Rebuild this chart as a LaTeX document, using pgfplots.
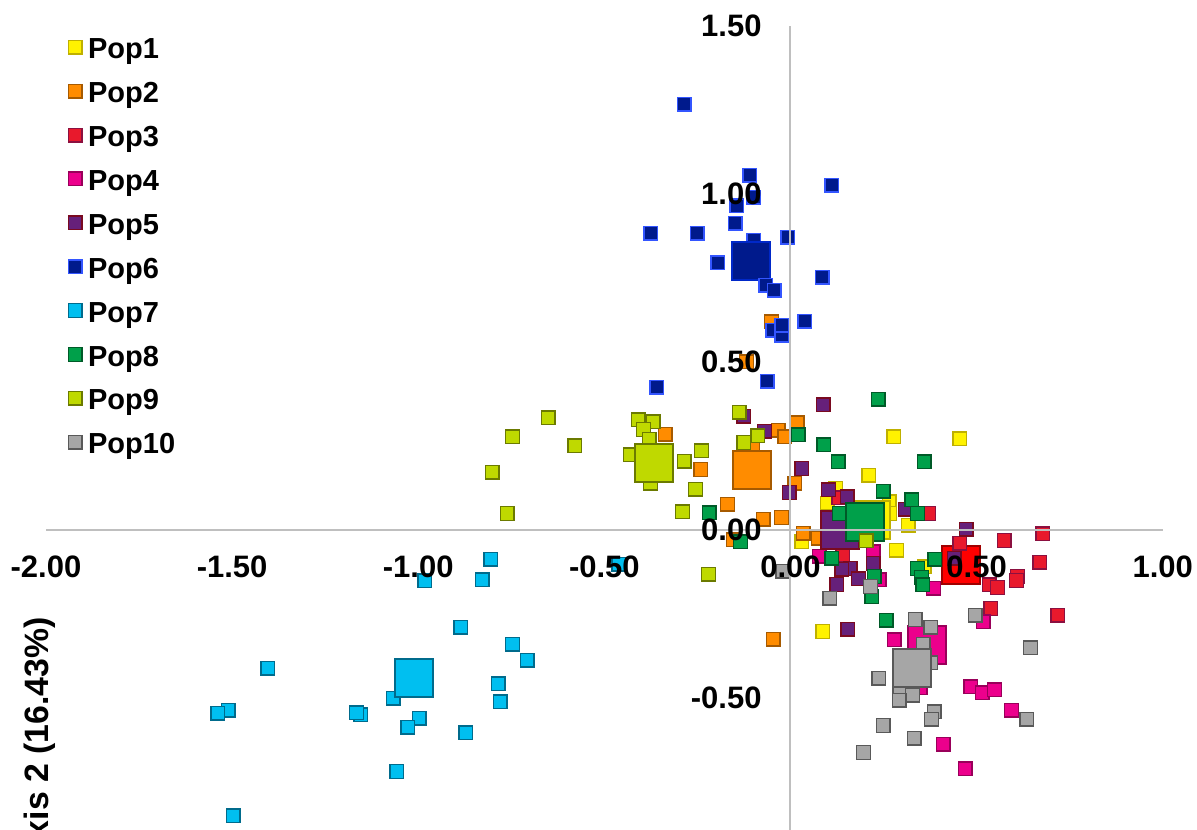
\documentclass[border=0pt]{standalone}
\usepackage{fontspec}
\setmainfont{Liberation Sans}
\usepackage{pgfplots}
\pgfplotsset{compat=1.18}
\definecolor{p1f}{HTML}{FFF200}\definecolor{p1d}{HTML}{BFB000}
\definecolor{p2f}{HTML}{FF8C00}\definecolor{p2d}{HTML}{A65A00}
\definecolor{p3f}{HTML}{E8192C}\definecolor{p3d}{HTML}{8B1040}
\definecolor{p3cf}{HTML}{FF0000}\definecolor{p3cd}{HTML}{A00000}
\definecolor{p4f}{HTML}{EC008C}\definecolor{p4d}{HTML}{99005A}
\definecolor{p5f}{HTML}{66207A}\definecolor{p5d}{HTML}{7A0A20}
\definecolor{p6f}{HTML}{001A8C}\definecolor{p6d}{HTML}{3355FF}
\definecolor{p6cd}{HTML}{0028C8}
\definecolor{p7f}{HTML}{00BFF0}\definecolor{p7d}{HTML}{006B8C}
\definecolor{p8f}{HTML}{00A04A}\definecolor{p8d}{HTML}{005A28}
\definecolor{p9f}{HTML}{BFD900}\definecolor{p9d}{HTML}{6B7A00}
\definecolor{p10f}{HTML}{A6A6A6}\definecolor{p10d}{HTML}{595959}
\definecolor{axgray}{RGB}{191,191,191}
\pgfplotsset{
  sm/.style 2 args={only marks, mark=square*, mark size=3.4pt,
    mark options={draw=#1, fill=#2, line width=0.7pt, solid}},
  bg/.style 2 args={only marks, mark=square*, mark size=9.5pt, forget plot,
    mark options={draw=#1, fill=#2, line width=1pt, solid}},
}
\begin{document}
\begin{tikzpicture}
\begin{axis}[
  scale only axis, width=558.35pt, height=419.6pt,
  xmin=-2, xmax=1, ymin=-1, ymax=1.5,
  enlargelimits=false,
  axis lines=middle,
  set layers, axis on top,
  axis line style={-, draw=axgray, line width=1pt, /pgfplots/on layer=axis background},
  xtick={-2,-1.5,-1,-0.5,0,0.5,1},
  ytick={-0.5,0,0.5,1,1.5},
  major tick length=0pt,
  hide obscured x ticks=false, hide obscured y ticks=false,
  /pgf/number format/fixed, /pgf/number format/fixed zerofill,
  /pgf/number format/precision=2, /pgf/number format/assume math mode=true,
  tick label style={font=\bfseries\fontsize{15.5}{18}\selectfont, inner sep=0pt},
  xticklabel style={anchor=center, yshift=-18.75pt},
  yticklabel style={anchor=east, xshift=-14.25pt},
  ylabel={Axis 2 (16.43\%)},
  ylabel style={at={(rel axis cs:-0.0054,0.2957)}, anchor=east, rotate=90, inner sep=0pt, font=\bfseries\fontsize{16.9}{20}\selectfont},
  legend style={at={(rel axis cs:0.0198,0.9875)}, anchor=north west, draw=none, fill=none,
    inner sep=0pt, row sep=7.94pt, column sep=3pt,
    font=\bfseries\fontsize{14.5}{17}\selectfont,
    nodes={inner sep=0pt, text height=11pt, text depth=3pt}},
  legend cell align=left,
  legend image code/.code={\draw[#1] plot coordinates {(0pt,0.18em)};},
]
\coordinate (bbsw) at (rel axis cs:0,0);
\coordinate (bbne) at (rel axis cs:1,1);
% Pop1
\addplot[sm={p1d}{p1f}] table[row sep=\\]{x y\\
0.278 0.276\\ 0.455 0.270\\ 0.210 0.162\\ 0.122 0.123\\ 0.099 0.078\\ 0.265 0.083\\
0.267 0.048\\ 0.316 0.013\\ 0.285 -0.062\\ 0.030 -0.036\\ 0.359 -0.111\\ 0.087 -0.304\\};
\addlegendentry{Pop1}
\addplot[bg={p1d}{p1f}] table[row sep=\\]{x y\\ 0.216 0.028\\};
% Pop2
\addplot[sm={p2d}{p2f}] table[row sep=\\]{x y\\
-0.337 0.284\\ -0.241 0.179\\ -0.169 0.075\\ -0.073 0.031\\ -0.024 0.036\\ -0.033 0.296\\
-0.015 0.276\\ 0.018 0.318\\ 0.012 0.138\\ 0.034 -0.011\\ -0.154 -0.031\\ -0.101 0.252\\
-0.046 -0.327\\ -0.051 0.619\\ -0.118 0.500\\ 0.075 -0.026\\};
\addlegendentry{Pop2}
\addplot[bg={p2d}{p2f}] table[row sep=\\]{x y\\ -0.104 0.177\\};
% Pop3
\addplot[sm={p3d}{p3f}] table[row sep=\\]{x y\\
0.372 0.048\\ 0.678 -0.013\\ 0.574 -0.033\\ 0.670 -0.097\\ 0.610 -0.140\\
0.607 -0.152\\ 0.534 -0.165\\ 0.556 -0.173\\ 0.538 -0.235\\ 0.718 -0.255\\ 0.130 0.094\\ 0.141 -0.076\\};
\addlegendentry{Pop3}
\addplot[bg={p3cd}{p3cf}] table[row sep=\\]{x y\\ 0.457 -0.106\\};
\addplot[sm={p3d}{p3f}, forget plot] table[row sep=\\]{x y\\ 0.455 -0.041\\};
% Pop4
\addplot[sm={p4d}{p4f}] table[row sep=\\]{x y\\
0.384 -0.175\\ 0.518 -0.275\\ 0.279 -0.329\\ 0.484 -0.468\\ 0.515 -0.486\\ 0.548 -0.478\\
0.594 -0.538\\ 0.410 -0.640\\ 0.469 -0.713\\ 0.222 -0.066\\ 0.238 -0.150\\ 0.077 -0.079\\ 0.348 -0.472\\};
\addlegendentry{Pop4}
\addplot[bg={p4d}{p4f}] table[row sep=\\]{x y\\ 0.366 -0.344\\};
% Pop5
\addplot[sm={p5d}{p5f}] table[row sep=\\]{x y\\
-0.125 0.338\\ -0.070 0.293\\ 0.030 0.182\\ -0.003 0.110\\ 0.088 0.371\\ 0.102 0.118\\
0.152 0.098\\ 0.308 0.060\\ 0.472 0.001\\ 0.440 -0.086\\ 0.222 -0.101\\ 0.160 -0.116\\
0.124 -0.164\\ 0.183 -0.147\\ 0.154 -0.297\\ 0.138 -0.118\\};
\addlegendentry{Pop5}
\addplot[bg={p5d}{p5f}] table[row sep=\\]{x y\\ 0.133 -0.001\\};
% Pop6
\addplot[sm={p6d}{p6f}] table[row sep=\\]{x y\\
-0.286 1.267\\ -0.109 1.056\\ 0.111 1.026\\ -0.098 0.990\\ -0.144 0.964\\ -0.149 0.913\\
-0.375 0.883\\ -0.251 0.883\\ -0.007 0.871\\ -0.098 0.862\\ -0.195 0.794\\ 0.085 0.752\\
0.039 0.621\\ -0.047 0.594\\ -0.023 0.579\\ -0.063 0.442\\ -0.359 0.424\\};
\addlegendentry{Pop6}
\addplot[bg={p6cd}{p6f}] table[row sep=\\]{x y\\ -0.106 0.800\\};
\addplot[sm={p6d}{p6f}, forget plot] table[row sep=\\]{x y\\
-0.066 0.728\\ -0.044 0.713\\ -0.023 0.609\\};
% Pop7
\addplot[sm={p7d}{p7f}] table[row sep=\\]{x y\\
-0.805 -0.088\\ -0.828 -0.150\\ -0.982 -0.153\\ -0.886 -0.291\\ -0.747 -0.342\\ -0.707 -0.389\\
-0.785 -0.460\\ -0.780 -0.513\\ -1.404 -0.413\\ -1.510 -0.538\\ -1.539 -0.547\\ -1.154 -0.552\\
-1.166 -0.546\\ -1.067 -0.503\\ -0.997 -0.562\\ -1.028 -0.589\\ -0.872 -0.605\\ -1.058 -0.721\\
-1.497 -0.853\\ -0.461 -0.103\\};
\addlegendentry{Pop7}
\addplot[bg={p7d}{p7f}] table[row sep=\\]{x y\\ -1.011 -0.443\\};
% Pop8
\addplot[sm={p8d}{p8f}] table[row sep=\\]{x y\\
0.236 0.388\\ 0.021 0.282\\ 0.090 0.252\\ 0.128 0.202\\ 0.359 0.202\\ 0.249 0.114\\
0.326 0.088\\ 0.341 0.048\\ 0.131 0.048\\ -0.218 0.050\\ -0.134 -0.036\\ 0.111 -0.085\\
0.388 -0.089\\ 0.341 -0.116\\ 0.352 -0.142\\ 0.356 -0.165\\ 0.225 -0.140\\ 0.218 -0.200\\ 0.257 -0.270\\};
\addlegendentry{Pop8}
\addplot[bg={p8d}{p8f}] table[row sep=\\]{x y\\ 0.200 0.023\\};
% Pop9
\addplot[sm={p9d}{p9f}] table[row sep=\\]{x y\\
-0.651 0.333\\ -0.747 0.276\\ -0.579 0.249\\ -0.801 0.171\\ -0.761 0.048\\ -0.409 0.327\\
-0.369 0.321\\ -0.395 0.298\\ -0.380 0.269\\ -0.431 0.222\\ -0.376 0.138\\ -0.285 0.204\\
-0.239 0.235\\ -0.255 0.120\\ -0.290 0.053\\ -0.138 0.349\\ -0.125 0.259\\ -0.088 0.279\\
-0.220 -0.133\\ 0.203 -0.034\\};
\addlegendentry{Pop9}
\addplot[bg={p9d}{p9f}] table[row sep=\\]{x y\\ -0.367 0.199\\};
% Pop10
\addplot[sm={p10d}{p10f}] table[row sep=\\]{x y\\
-0.021 -0.124\\ 0.106 -0.205\\ 0.215 -0.170\\ 0.335 -0.268\\ 0.377 -0.291\\ 0.357 -0.342\\
0.496 -0.255\\ 0.645 -0.352\\ 0.377 -0.397\\ 0.237 -0.443\\ 0.294 -0.478\\ 0.328 -0.493\\
0.292 -0.508\\ 0.386 -0.543\\ 0.379 -0.565\\ 0.635 -0.565\\ 0.249 -0.584\\ 0.332 -0.622\\ 0.196 -0.664\\};
\addlegendentry{Pop10}
\addplot[bg={p10d}{p10f}] table[row sep=\\]{x y\\ 0.326 -0.413\\};
\end{axis}
\pgfresetboundingbox
\path[use as bounding box] ([xshift=-23pt,yshift=18.1pt]bbsw) rectangle ([xshift=17.15pt,yshift=13pt]bbne);
\end{tikzpicture}
\end{document}
